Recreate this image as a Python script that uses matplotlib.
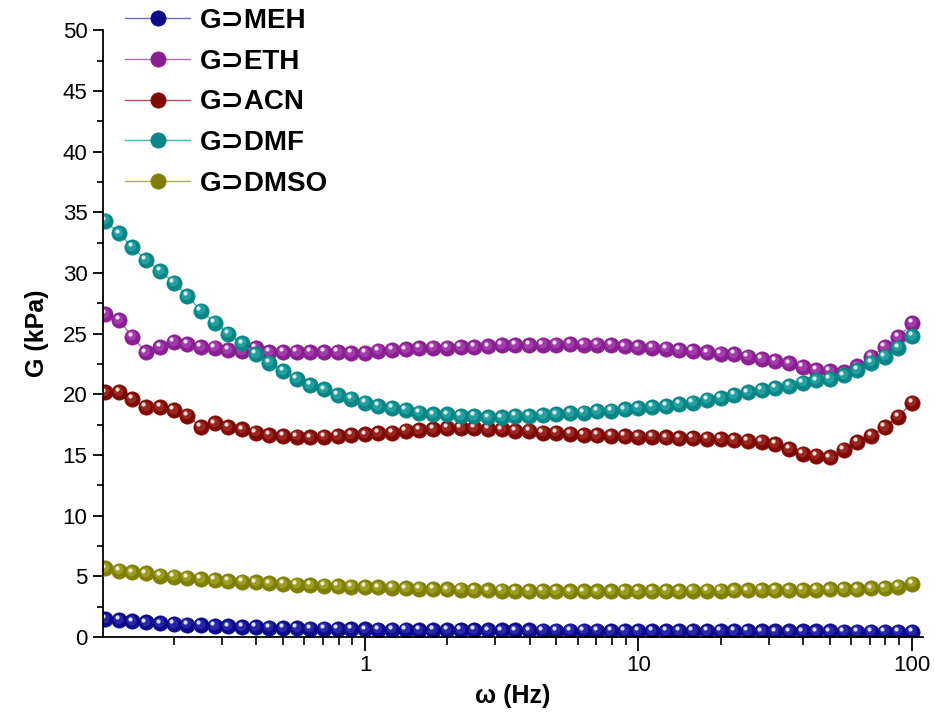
import numpy as np
import matplotlib
matplotlib.use('Agg')
import matplotlib.pyplot as plt
from matplotlib.transforms import offset_copy
from matplotlib.ticker import MultipleLocator, LogLocator, NullFormatter, FixedLocator, FixedFormatter

plt.rcParams['font.family'] = ['Liberation Sans', 'DejaVu Sans']

# frequency sweep (Hz), 20 points per decade
freq = [0.112, 0.126, 0.141, 0.158, 0.178, 0.2, 0.224, 0.251, 0.282, 0.316,
        0.355, 0.398, 0.447, 0.501, 0.562, 0.631, 0.708, 0.794, 0.891, 1.0,
        1.12, 1.26, 1.41, 1.58, 1.78, 2.0, 2.24, 2.51, 2.82, 3.16,
        3.55, 3.98, 4.47, 5.01, 5.62, 6.31, 7.08, 7.94, 8.91, 10.0,
        11.2, 12.6, 14.1, 15.8, 17.8, 20.0, 22.4, 25.1, 28.2, 31.6,
        35.5, 39.8, 44.7, 50.1, 56.2, 63.1, 70.8, 79.4, 89.1, 100.0]

g_meh = [1.5, 1.38, 1.29, 1.2, 1.13, 1.07, 1.02, 0.97, 0.92, 0.88,
         0.84, 0.81, 0.78, 0.75, 0.72, 0.7, 0.68, 0.66, 0.64, 0.63,
         0.62, 0.61, 0.6, 0.59, 0.58, 0.57, 0.56, 0.56, 0.55, 0.55,
         0.54, 0.54, 0.53, 0.53, 0.52, 0.52, 0.52, 0.51, 0.51, 0.5,
         0.5, 0.5, 0.49, 0.49, 0.49, 0.48, 0.48, 0.48, 0.47, 0.47,
         0.47, 0.46, 0.46, 0.46, 0.45, 0.45, 0.45, 0.44, 0.44, 0.44]

g_eth = [26.6, 26.1, 24.75, 23.45, 23.9, 24.3, 24.15, 23.9, 23.85, 23.65,
         23.55, 23.8, 23.5, 23.5, 23.5, 23.5, 23.5, 23.5, 23.4, 23.4,
         23.6, 23.65, 23.7, 23.8, 23.85, 23.85, 23.9, 23.9, 23.95, 24.05,
         24.05, 24.05, 24.1, 24.1, 24.15, 24.1, 24.1, 24.05, 23.95, 23.9,
         23.85, 23.75, 23.65, 23.55, 23.45, 23.35, 23.3, 23.1, 22.9, 22.75,
         22.55, 22.25, 22.0, 21.9, 21.8, 22.3, 23.1, 23.9, 24.7, 25.85]

g_acn = [20.15, 20.2, 19.6, 18.95, 18.95, 18.7, 18.25, 17.3, 17.6, 17.3,
         17.1, 16.85, 16.65, 16.55, 16.5, 16.45, 16.5, 16.55, 16.65, 16.7,
         16.8, 16.85, 17.0, 17.05, 17.15, 17.2, 17.2, 17.2, 17.15, 17.1,
         17.0, 17.0, 16.85, 16.85, 16.75, 16.65, 16.65, 16.6, 16.55, 16.5,
         16.5, 16.45, 16.4, 16.4, 16.35, 16.3, 16.25, 16.15, 16.1, 15.9,
         15.5, 15.1, 14.95, 14.8, 15.45, 16.05, 16.6, 17.3, 18.15, 19.3]

g_dmf = [34.3, 33.25, 32.15, 31.05, 30.15, 29.2, 28.1, 26.9, 25.9, 25.0,
         24.2, 23.3, 22.6, 21.9, 21.25, 20.75, 20.4, 19.95, 19.65, 19.3,
         19.05, 18.85, 18.7, 18.5, 18.35, 18.35, 18.2, 18.2, 18.1, 18.1,
         18.2, 18.2, 18.3, 18.35, 18.45, 18.5, 18.6, 18.65, 18.75, 18.85,
         18.95, 19.05, 19.2, 19.3, 19.55, 19.7, 19.95, 20.15, 20.35, 20.5,
         20.7, 20.95, 21.15, 21.25, 21.55, 22.0, 22.6, 23.1, 23.85, 24.8]

g_dmso = [5.65, 5.46, 5.33, 5.25, 5.05, 4.97, 4.89, 4.78, 4.7, 4.62,
          4.56, 4.5, 4.42, 4.37, 4.31, 4.28, 4.23, 4.2, 4.15, 4.12,
          4.09, 4.07, 4.01, 3.98, 3.96, 3.93, 3.9, 3.87, 3.85, 3.82,
          3.8, 3.79, 3.78, 3.77, 3.76, 3.76, 3.76, 3.76, 3.77, 3.77,
          3.78, 3.79, 3.8, 3.81, 3.82, 3.83, 3.84, 3.85, 3.86, 3.87,
          3.88, 3.89, 3.9, 3.92, 3.94, 3.96, 4.0, 4.05, 4.15, 4.4]

labels = ['G\u2283MEH', 'G\u2283ETH', 'G\u2283ACN', 'G\u2283DMF', 'G\u2283DMSO']
series = [g_meh, g_eth, g_acn, g_dmf, g_dmso]
colors = ['#0c0c8a', '#8a1f92', '#7d0a05', '#0a8585', '#7f7f05']
line_colors = ['#6b6bc0', '#b070b8', '#b05050', '#50b0b0', '#b0b050']
light_colors = ['#4a4ad0', '#c060c8', '#c04a40', '#40c0c0', '#c0c040']

fig = plt.figure(figsize=(9.35, 7.19), dpi=100)
ax = fig.add_axes([0.110, 0.114, 0.877, 0.844])

hl_mid = offset_copy(ax.transData, fig=fig, x=-1.0, y=1.3, units='dots')
hl_top = offset_copy(ax.transData, fig=fig, x=-2.4, y=2.8, units='dots')

handles = []
for y, lab, c, lc, lt in zip(series, labels, colors, line_colors, light_colors):
    h, = ax.plot(freq, y, '-', color=lc, lw=1.0, marker='o', ms=11,
                 mfc=c, mec=c, mew=0.5, label=lab)
    ax.plot(freq, y, ls='none', marker='o', ms=7, mfc=lt, mec='none',
            alpha=0.45, transform=hl_mid)
    ax.plot(freq, y, ls='none', marker='o', ms=3, mfc='white', mec='none',
            alpha=0.85, transform=hl_top)
    handles.append(h)

ax.set_xscale('log')
ax.set_xlim(0.110, 109.6)
ax.set_ylim(0, 50)

ax.spines['top'].set_visible(False)
ax.spines['right'].set_visible(False)
for s in ['left', 'bottom']:
    ax.spines[s].set_linewidth(1.3)

ax.yaxis.set_major_locator(MultipleLocator(5))
ax.yaxis.set_minor_locator(MultipleLocator(2.5))
ax.xaxis.set_major_locator(FixedLocator([1, 10, 100]))
ax.xaxis.set_major_formatter(FixedFormatter(['1', '10', '100']))
ax.xaxis.set_minor_locator(LogLocator(base=10, subs=np.arange(2, 10)))
ax.xaxis.set_minor_formatter(NullFormatter())

ax.tick_params(axis='both', which='major', direction='out', width=1.3,
               labelsize=16, pad=4)
ax.tick_params(axis='y', which='major', length=7)
ax.tick_params(axis='y', which='minor', direction='out', length=4, width=1.2)
ax.tick_params(axis='x', which='major', length=10, pad=3)
ax.tick_params(axis='x', which='minor', direction='out', length=6, width=1.2)

ax.set_xlabel('\u03c9 (Hz)', fontsize=18, fontweight='bold', labelpad=6)
ax.set_ylabel('G (kPa)', fontsize=18, fontweight='bold', labelpad=10)

leg = ax.legend(handles=handles, loc='upper left',
                bbox_to_anchor=(125 / 935, 1 - 8 / 719),
                bbox_transform=fig.transFigure, frameon=False,
                prop={'size': 20, 'weight': 'bold'},
                handlelength=2.35, handletextpad=0.35, labelspacing=0.53,
                borderpad=0, borderaxespad=0)

fig.savefig('out.png', dpi=100)
